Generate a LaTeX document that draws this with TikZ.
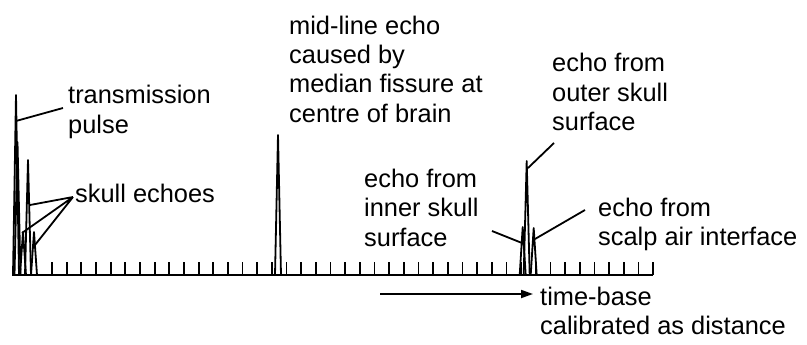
\documentclass[tikz,border=0pt]{standalone}
\usepackage{fontspec}
\setmainfont{Liberation Sans}
\usepackage{tikz}
\usetikzlibrary{arrows.meta}
\tikzset{
  axis-line/.style={line width=2.2pt},
  tick-mark/.style={line width=1.8pt},
  spike/.style={line width=1.8pt,line join=round},
  leader/.style={line width=1.8pt},
  arrow/.style={-{Triangle[length=12pt,width=8pt]},line width=1.8pt},
  % anchor is the baseline of the last line
  label-text/.style={anchor=base west,inner sep=0pt,align=left,
    font=\fontsize{25.4}{29.5}\selectfont},
}

\begin{document}
\begin{tikzpicture}[x=1pt,y=-1pt]
  \useasboundingbox (0,0) rectangle (807,345);
  % time base with its scale marks
  \coordinate (axis-start) at (12,275);
  \coordinate (axis-end) at (653,275);
  \draw[axis-line] (axis-start) -- (axis-end);
  \foreach \k in {0,...,41}
    \draw[tick-mark] ({52+14.66*\k},275) -- ++(0,-13);
  % echo spikes: position / height of top
  \foreach \sx/\sy in {16/95,17.5/142,28/160,23/232,34/232,
                       278/135,522.7/227,526.7/161,533.7/228}
    \draw[spike] (\sx-3,275) -- (\sx,\sy) -- (\sx+3,275);

  % labels
  \node[label-text] (pulse-lbl) at (68,133) {transmission\\pulse};
  \node[label-text] (skull-lbl) at (75,202) {skull echoes};
  \node[label-text] (mid-lbl) at (289,122.5)
    {mid-line echo\\caused by\\median fissure at\\centre of brain};
  \node[label-text] (outer-lbl) at (552,131) {echo from\\outer skull\\surface};
  \node[label-text] (inner-lbl) at (364,246) {echo from\\inner skull\\surface};
  \node[label-text] (scalp-lbl) at (598,245.5) {echo from\\scalp air interface};
  \node[label-text] (time-lbl) at (540,334.5) {time-base\\calibrated as distance};

  % leader lines
  \coordinate (pulse-pt) at (16,121);
  \coordinate (pulse-end) at (63,108);
  \draw[leader] (pulse-pt) -- (pulse-end);
  \coordinate (skull-hub) at (73,197);
  \coordinate (skull-a) at (30,205);
  \coordinate (skull-b) at (22,233);
  \coordinate (skull-c) at (35,245);
  \draw[leader] (skull-hub) -- (skull-a)
                (skull-hub) -- (skull-b)
                (skull-hub) -- (skull-c);
  \coordinate (outer-pt) at (528,168);
  \coordinate (outer-end) at (554,143);
  \draw[leader] (outer-pt) -- (outer-end);
  \coordinate (inner-end) at (492,231);
  \coordinate (inner-pt) at (522,243);
  \draw[leader] (inner-end) -- (inner-pt);
  \coordinate (scalp-pt) at (535,239);
  \coordinate (scalp-end) at (585,210);
  \draw[leader] (scalp-pt) -- (scalp-end);

  % direction of the time base
  \coordinate (time-start) at (380,294);
  \coordinate (time-tip) at (533,294);
  \draw[arrow] (time-start) -- (time-tip);
\end{tikzpicture}
\end{document}
